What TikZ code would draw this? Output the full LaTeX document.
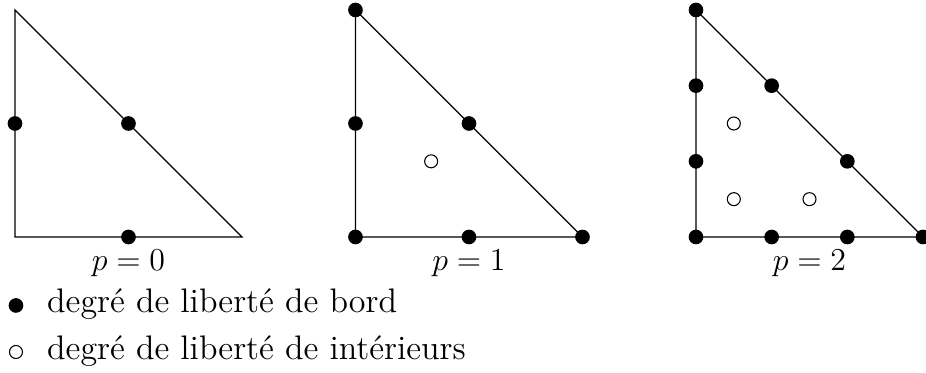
\documentclass[tikz,border=0pt]{standalone}
\begin{document}
\begin{tikzpicture}[
  dof/.style={circle, fill=black, inner sep=0pt, minimum size=0.194cm},
  idof/.style={circle, draw=black, line width=0.4pt, fill=white, inner sep=0pt, minimum size=0.172cm},
  edgeline/.style={line width=0.5pt},
  lbl/.style={font=\fontsize{12.2}{14.5}\selectfont, inner sep=0pt, anchor=base},
  legtext/.style={font=\fontsize{12.8}{15}\selectfont, inner sep=0pt, anchor=base west},
]
\useasboundingbox (-0.198,-1.797) rectangle (12.04,3.132);

% ---------- p = 0 ----------
\coordinate (A1) at (0,0);
\coordinate (B1) at (3,0);
\coordinate (C1) at (0,3);
\draw[edgeline] (A1) -- (B1) -- (C1) -- cycle;
\node[dof] (d1a) at (0,1.5) {};
\node[dof] (d1b) at (1.5,1.5) {};
\node[dof] (d1c) at (1.5,0) {};
\node[lbl] (l0) at (1.5,-0.449) {$p=0$};

% ---------- p = 1 ----------
\coordinate (A2) at (4.5,0);
\coordinate (B2) at (7.5,0);
\coordinate (C2) at (4.5,3);
\draw[edgeline] (A2) -- (B2) -- (C2) -- cycle;
\node[dof] (d2a) at (A2) {};
\node[dof] (d2b) at (B2) {};
\node[dof] (d2c) at (C2) {};
\node[dof] (d2d) at (4.5,1.5) {};
\node[dof] (d2e) at (6,1.5) {};
\node[dof] (d2f) at (6,0) {};
\node[idof] (i2a) at (5.5,1) {};
\node[lbl] (l1) at (6,-0.449) {$p=1$};

% ---------- p = 2 ----------
\coordinate (A3) at (9,0);
\coordinate (B3) at (12,0);
\coordinate (C3) at (9,3);
\draw[edgeline] (A3) -- (B3) -- (C3) -- cycle;
\node[dof] (d3a) at (A3) {};
\node[dof] (d3b) at (B3) {};
\node[dof] (d3c) at (C3) {};
\node[dof] (d3d) at (9,1) {};
\node[dof] (d3e) at (9,2) {};
\node[dof] (d3f) at (10,0) {};
\node[dof] (d3g) at (11,0) {};
\node[dof] (d3h) at (10,2) {};
\node[dof] (d3i) at (11,1) {};
\node[idof] (i3a) at (9.5,1.5) {};
\node[idof] (i3b) at (9.5,0.5) {};
\node[idof] (i3c) at (10.5,0.5) {};
\node[lbl] (l2) at (10.5,-0.449) {$p=2$};

% ---------- legend ----------
\node[dof] (bul1) at (0.013,-0.905) {};
\node[legtext] (leg1) at (0.419,-1.0) {degré de liberté de bord};
\node[idof] (bul2) at (0.013,-1.52) {};
\node[legtext] (leg2) at (0.419,-1.625) {degré de liberté de intérieurs};
\end{tikzpicture}
\end{document}
